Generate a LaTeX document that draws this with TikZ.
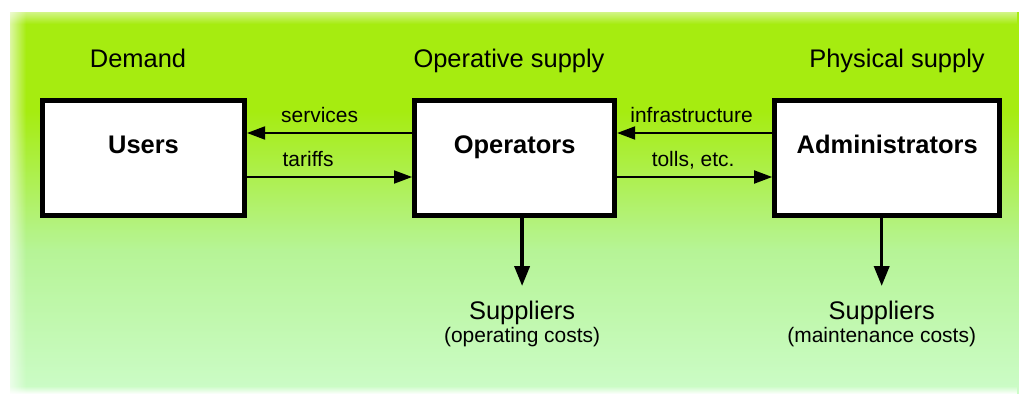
\documentclass[tikz,border=0pt]{standalone}
\usepackage{fontspec}
\setmainfont{Liberation Sans}
\usepackage{tikz}
\usetikzlibrary{positioning,arrows.meta,calc,fadings}
\definecolor{lime}{RGB}{166,236,16}
\definecolor{leaf}{RGB}{182,244,150}
\definecolor{mint}{RGB}{204,252,200}

\begin{document}
\begin{tikzpicture}[x=0.025cm, y=-0.025cm,
		actor/.style={draw, fill=white, line width=3.56pt,
			font=\fontsize{18.1}{21}\selectfont\bfseries,
			text height=0.45cm, text depth=0.65cm, minimum height=2.875cm},
		head/.style={font=\fontsize{18.1}{21}\selectfont, anchor=base, inner sep=0pt},
		flow/.style={-{Triangle[length=12.8pt, width=9.2pt]}, line width=1.42pt},
		down/.style={-{Triangle[length=14.2pt, width=10.7pt]}, line width=2.5pt},
		lbl/.style={font=\fontsize{14.9}{18}\selectfont, text height=1.6ex, text depth=.25ex, above=2pt},
		sup/.style={font=\fontsize{18.1}{16.4}\selectfont, align=center, anchor=north,
			inner xsep=2pt, inner ysep=0.37cm}]
		% backdrop
		\fill[white] (0,0) rectangle (1019,394);
		\fill[lime] (10,12) rectangle (1019,112);
		\shade[top color=lime, bottom color=leaf] (10,111) rectangle (1019,250);
		\shade[top color=leaf, bottom color=mint] (10,249) rectangle (1019,394);
		\fill[white, path fading=east] (0,0) rectangle (26,394);
		\fill[white, path fading=south] (0,0) rectangle (1019,24);
		\fill[white, path fading=north] (0,386) rectangle (1019,394);

		\node[actor, minimum width=5.05cm] (users) at (143.5,158) {Users};
		\node[actor, minimum width=5cm, right=4.125cm of users] (ops) {Operators};
		\node[actor, minimum width=5.625cm, right=3.875cm of ops] (adm) {Administrators};

		\node[head] (dem) at (138,68) {Demand};
		\node[head] (opsupply) at (509,68) {Operative supply};
		\node[head] (physupply) at (897,68) {Physical supply};

		\draw[flow] ($(ops.west)+(0,-25)$) -- node[lbl, pos=.56] (svc) {services} ($(users.east)+(0,-25)$);
		\draw[flow] ($(users.east)+(0,19)$) -- node[lbl, pos=.37] (trf) {tariffs} ($(ops.west)+(0,19)$);
		\draw[flow] ($(adm.west)+(0,-25)$) -- node[lbl, pos=.52] (infra) {infrastructure} ($(ops.east)+(0,-25)$);
		\draw[flow] ($(ops.east)+(0,19)$) -- node[lbl, pos=.49] (tolls) {tolls, etc.} ($(adm.west)+(0,19)$);

		\node[sup] (opsup) at ($(ops.south)+(7.5,68)$)
			{Suppliers\\{\fontsize{14.9}{16.4}\selectfont (operating costs)}};
		\node[sup] (admsup) at ($(adm.south)+(-5.5,68)$)
			{Suppliers\\{\fontsize{14.9}{16.4}\selectfont (maintenance costs)}};
		\draw[down] (ops.south -| opsup.north) -- (opsup.north);
		\draw[down] (adm.south -| admsup.north) -- (admsup.north);
	\end{tikzpicture}
\end{document}
